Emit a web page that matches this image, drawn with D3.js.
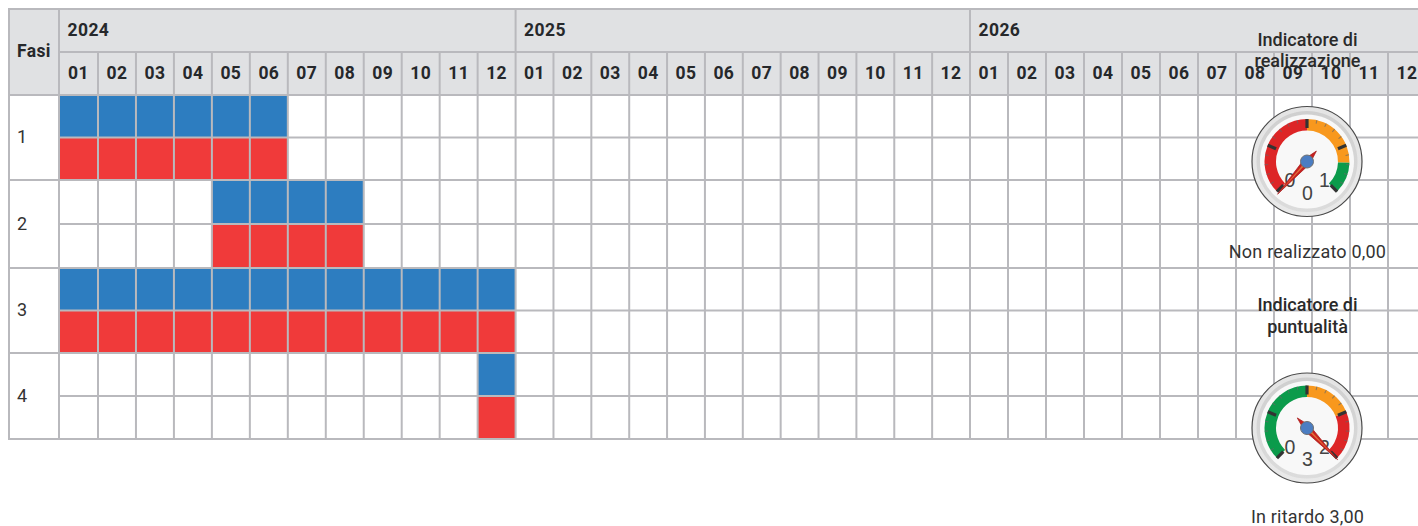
<!DOCTYPE html>
<html>
<head>
<meta charset="utf-8">
<style>
  html, body { margin: 0; padding: 0; background: #fff; overflow: hidden; }
  text { font-family: Roboto, sans-serif; fill: #212529; }
  .head { font-weight: 700; font-size: 17.5px; letter-spacing: 0.4px; fill: #26282b; }
  .rowLabel { font-size: 18px; fill: #333; }
  .title { font-size: 18px; font-weight: 500; text-anchor: middle; fill: #2a2a2a; }
  .caption { font-size: 18px; letter-spacing: 0.2px; text-anchor: middle; fill: #333; }
  .gaugeNum { font-family: "Liberation Sans", Arial, sans-serif; font-size: 19.5px; text-anchor: middle; fill: #444; }
</style>
</head>
<body>
<svg id="chart" width="1418" height="526"></svg>
<script src="https://cdnjs.cloudflare.com/ajax/libs/d3/7.8.5/d3.min.js"></script>
<script>
var years = ['2024', '2025', '2026'];
var monthLabels = ['01', '02', '03', '04', '05', '06', '07', '08', '09', '10', '11', '12'];
var phases = ['1', '2', '3', '4'];

// month indexes, 0 = 2024-01
var plannedStart = [0, 4, 0, 11];
var plannedEnd = [5, 7, 11, 11];
var actualStart = [0, 4, 0, 11];
var actualEnd = [5, 7, 11, 11];

var gaugeTitles = [['Indicatore di', 'realizzazione'], ['Indicatore di', 'puntualità']];
var gaugeCaptions = ['Non realizzato 0,00', 'In ritardo 3,00'];
var gaugeValues = [0, 3];
var gaugeMax = [1, 2];
var gaugeStops = [[0, 0.5, 0.84, 1], [0, 1, 1.5, 2]];
var gaugeColors = [['#dd2526', '#f8981d', '#0b9b4b'], ['#0b9b4b', '#f8981d', '#dd2526']];

var App = {};

App.main = function() {
  App.svg = d3.select('#chart');
  App.months = d3.range(years.length * 12);

  App.x = d3.scaleLinear().domain([0, 1, 12, 24, 36]).range([59, 98, 515.6, 970, 1426]);
  // half-row index; rows are not all the same height in the page
  App.y = d3.scaleLinear().domain([0, 2, 4, 6, 8]).range([95, 180, 268, 353, 439]);

  App.initDefs();
  App.initHeader();
  App.initBars();
  App.initGrid();
  App.initLabels();
  App.initGauge(0, 1307, 161.5, [46, 67], 258);
  App.initGauge(1, 1307, 428, [311, 333], 523);
}

App.initDefs = function() {
  var defs = App.svg.append('defs');
  function grad(id, from, to) {
    var lg = defs.append('linearGradient').attr('id', id)
      .attr('x1', 0).attr('y1', 0).attr('x2', 0).attr('y2', 1);
    lg.append('stop').attr('offset', '0%').attr('stop-color', from);
    lg.append('stop').attr('offset', '100%').attr('stop-color', to);
  }
  grad('rimOuter', '#e4e4e4', '#e9e9e9');
  grad('rimInner', '#cfcfcf', '#dcdcdc');
}

App.initHeader = function() {
  App.svg.append('rect')
    .attr('x', 9).attr('y', 9)
    .attr('width', 1409).attr('height', App.y(0) - 9)
    .attr('fill', '#e0e1e3');
}

App.initBars = function() {
  var cells = [];
  phases.forEach(function(p, i) {
    d3.range(plannedStart[i], plannedEnd[i] + 1).forEach(function(m) {
      cells.push({ m: m, row: i * 2, color: '#2d7dc0' });
    });
    d3.range(actualStart[i], actualEnd[i] + 1).forEach(function(m) {
      cells.push({ m: m, row: i * 2 + 1, color: '#f03a3a' });
    });
  });

  App.svg.append('g').selectAll('rect').data(cells)
    .enter().append('rect')
    .attr('x', function(d) { return App.x(d.m); })
    .attr('y', function(d) { return App.y(d.row); })
    .attr('width', function(d) { return App.x(d.m + 1) - App.x(d.m); })
    .attr('height', function(d) { return App.y(d.row + 1) - App.y(d.row); })
    .attr('fill', function(d) { return d.color; });
}

App.initGrid = function() {
  var g = App.svg.append('g')
    .attr('stroke', '#b9b9bd')
    .attr('stroke-width', 2)
    .attr('fill', 'none');

  function line(x1, y1, x2, y2) {
    g.append('line').attr('x1', x1).attr('y1', y1).attr('x2', x2).attr('y2', y2);
  }

  var top = 9, mid = 52, bottom = App.y(8);
  line(8, top, 1418, top);
  line(App.x(0), mid, 1418, mid);
  d3.range(9).forEach(function(r) {
    var left = (r % 2 === 0) ? 8 : App.x(0);
    line(left, App.y(r), 1418, App.y(r));
  });
  line(9, top, 9, bottom + 1);
  App.months.forEach(function(m) {
    line(App.x(m), m % 12 === 0 ? top : mid, App.x(m), bottom + 1);
  });
}

App.initLabels = function() {
  App.svg.append('text').attr('class', 'head')
    .attr('x', 17).attr('y', 57).text('Fasi');

  App.svg.selectAll('text.year').data(years)
    .enter().append('text')
    .attr('class', 'head year')
    .attr('x', function(d, i) { return App.x(i * 12) + 8.5; })
    .attr('y', 36)
    .text(function(d) { return d; });

  App.svg.selectAll('text.month').data(App.months)
    .enter().append('text')
    .attr('class', 'head month')
    .attr('text-anchor', 'middle')
    .attr('x', function(d) { return (App.x(d) + App.x(d + 1)) / 2; })
    .attr('y', 78.5)
    .text(function(d) { return monthLabels[d % 12]; });

  App.svg.selectAll('text.rowLabel').data(phases)
    .enter().append('text')
    .attr('class', 'rowLabel')
    .attr('x', 17)
    .attr('y', function(d, i) { return App.y(i * 2 + 1) + 5.5; })
    .text(function(d) { return d; });
}

App.initGauge = function(i, cx, cy, titleYs, captionY) {
  var max = gaugeMax[i];
  var angle = d3.scaleLinear().domain([0, max]).range([-135, 135]).clamp(true);
  var rad = function(v) { return angle(v) * Math.PI / 180; };
  var g = App.svg.append('g').attr('transform', 'translate(' + cx + ',' + cy + ')');

  g.append('circle').attr('r', 55).attr('fill', 'url(#rimOuter)').attr('stroke', '#4a4a4a').attr('stroke-width', 1.2);
  g.append('circle').attr('r', 50.5).attr('fill', 'url(#rimInner)');
  g.append('circle').attr('r', 47).attr('fill', '#f8f8f8');

  var arc = d3.arc().innerRadius(31).outerRadius(42.5);
  d3.pairs(gaugeStops[i]).forEach(function(p, k) {
    g.append('path')
      .attr('d', arc({ startAngle: rad(p[0]), endAngle: rad(p[1]) }))
      .attr('fill', gaugeColors[i][k]);
  });

  d3.range(21).forEach(function(t) {
    var major = t % 5 === 0;
    var a = -135 + t * 13.5;
    g.append('line')
      .attr('transform', 'rotate(' + a + ')')
      .attr('y1', -42.5)
      .attr('y2', major ? -33.5 : -39)
      .attr('stroke', major ? '#333' : '#666')
      .attr('stroke-opacity', major ? 1 : 0.7)
      .attr('stroke-width', major ? 3.2 : 1);
  });

  g.append('text').attr('class', 'gaugeNum').attr('x', -17).attr('y', 25.5).text('0');
  g.append('text').attr('class', 'gaugeNum').attr('x', 17.5).attr('y', 25.5).text(max);
  g.append('text').attr('class', 'gaugeNum').attr('x', 0.5).attr('y', 38).text(gaugeValues[i]);

  var needle = g.append('g').attr('transform', 'rotate(' + (angle(gaugeValues[i]) + (i === 0 ? -3 : 1)) + ')');
  needle.append('path').attr('d', 'M-3.6,0 L0,-44 L3.6,0 L0,14 Z').attr('fill', '#c8201f').attr('stroke', '#a81c1c').attr('stroke-width', 0.7);
  needle.append('path').attr('d', 'M-1,0 L0,-39 L1,0 Z').attr('fill', '#e0703a');
  g.append('circle').attr('r', 6.5).attr('fill', '#4b7dc2').attr('stroke', '#6f6f6f').attr('stroke-width', 1);

  App.svg.selectAll('text.title' + i).data(gaugeTitles[i])
    .enter().append('text')
    .attr('class', 'title title' + i)
    .attr('x', cx + 0.5)
    .attr('y', function(d, k) { return titleYs[k]; })
    .text(function(d) { return d; });

  App.svg.append('text').attr('class', 'caption')
    .attr('x', cx + 0.5).attr('y', captionY)
    .text(gaugeCaptions[i]);
}

App.main();
</script>
</body>
</html>
